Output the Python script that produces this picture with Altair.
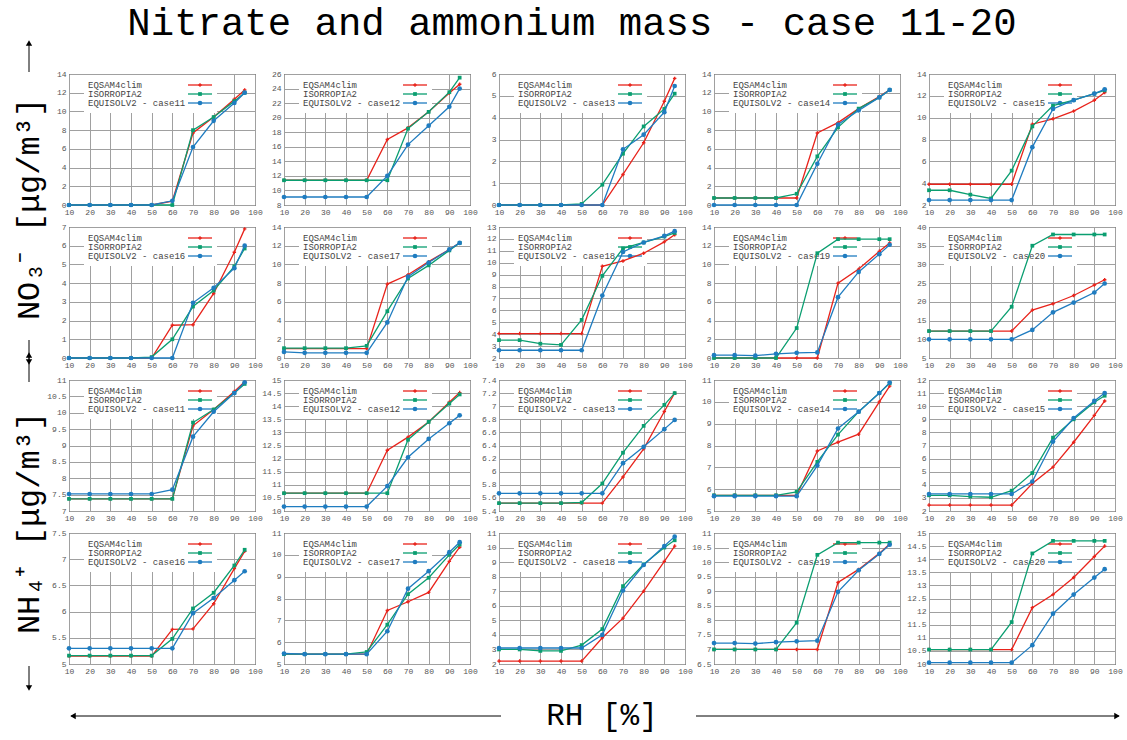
import altair as alt
import pandas as pd

RH = [10, 20, 30, 40, 50, 60, 70, 80, 90, 95]
MODELS = ["EQSAM4clim", "ISORROPIA2", "EQUISOLV2"]
COLORS = ["#e8231b", "#0a9e70", "#1f7cc0"]
SHAPES = ["cross", "square", "circle"]
SIZES = [12, 14, 22]
CASES = [11, 12, 13, 14, 15, 16, 17, 18, 19, 20]

# ---------------- NO3- (ug/m3) ----------------
no3_c11_eq = [0, 0, 0, 0, 0, 0.4, 7.7, 9.4, 11.3, 12.3]
no3_c11_iso = [0, 0, 0, 0, 0, 0, 8.0, 9.4, 11.1, 12.0]
no3_c11_equ = [0, 0, 0, 0, 0, 0.45, 6.2, 9.0, 10.9, 12.0]
no3_c12_eq = [11.4, 11.4, 11.4, 11.4, 11.4, 17.0, 18.6, 20.8, 23.4, 24.6]
no3_c12_iso = [11.4, 11.4, 11.4, 11.4, 11.4, 11.4, 18.5, 20.8, 23.5, 25.5]
no3_c12_equ = [9.1, 9.1, 9.1, 9.1, 9.1, 12.0, 16.3, 18.9, 21.5, 24.0]
no3_c13_eq = [0, 0, 0, 0, 0, 0, 1.4, 2.85, 4.75, 5.8]
no3_c13_iso = [0, 0, 0, 0, 0.05, 0.93, 2.35, 3.6, 4.4, 5.1]
no3_c13_equ = [0, 0, 0, 0, 0, 0, 2.55, 3.22, 4.25, 5.45]
no3_c14_eq = [0.75, 0.75, 0.75, 0.75, 0.75, 7.7, 8.8, 10.3, 11.6, 12.3]
no3_c14_iso = [0.75, 0.75, 0.75, 0.75, 1.2, 5.2, 8.3, 10.3, 11.5, 12.3]
no3_c14_equ = [0, 0, 0, 0, 0, 4.4, 8.6, 10.1, 11.5, 12.3]
no3_c15_eq = [3.9, 3.9, 3.9, 3.9, 3.9, 9.4, 9.9, 10.6, 11.6, 12.3]
no3_c15_iso = [3.35, 3.35, 2.95, 2.6, 5.15, 9.2, 11.1, 11.6, 12.2, 12.5]
no3_c15_equ = [2.45, 2.45, 2.45, 2.45, 2.45, 7.3, 10.8, 11.6, 12.2, 12.6]
no3_c16_eq = [0, 0, 0, 0, 0, 1.75, 1.78, 3.45, 5.65, 6.9]
no3_c16_iso = [0, 0, 0, 0, 0.05, 1.0, 2.75, 3.6, 4.9, 5.85]
no3_c16_equ = [0, 0, 0, 0, 0, 0, 2.95, 3.75, 4.8, 6.0]
no3_c17_eq = [1.0, 1.0, 1.0, 1.0, 1.0, 7.9, 8.9, 10.3, 11.6, 12.3]
no3_c17_iso = [1.05, 1.05, 1.05, 1.05, 1.3, 5.0, 8.5, 9.9, 11.5, 12.3]
no3_c17_equ = [0.65, 0.55, 0.55, 0.55, 0.55, 3.8, 8.7, 10.2, 11.6, 12.3]
no3_c18_eq = [4.05, 4.05, 4.05, 4.05, 4.05, 9.7, 10.15, 10.8, 11.75, 12.35]
no3_c18_iso = [3.5, 3.5, 3.2, 3.1, 5.2, 8.9, 11.2, 11.7, 12.2, 12.5]
no3_c18_equ = [2.65, 2.65, 2.65, 2.65, 2.65, 7.25, 10.9, 11.7, 12.25, 12.65]
no3_c19_eq = [0, 0, 0, 0, 0, 0, 8.0, 9.5, 11.4, 12.3]
no3_c19_iso = [0, 0, 0, 0, 3.2, 11.2, 12.7, 12.7, 12.7, 12.7]
no3_c19_equ = [0.3, 0.3, 0.25, 0.45, 0.55, 0.6, 6.5, 9.2, 11.1, 12.1]
no3_c20_eq = [12.2, 12.2, 12.2, 12.2, 12.2, 17.8, 19.5, 21.7, 24.5, 25.9]
no3_c20_iso = [12.2, 12.2, 12.2, 12.2, 18.7, 35.0, 38.0, 38.0, 38.0, 38.0]
no3_c20_equ = [10.0, 10.0, 10.0, 10.0, 10.0, 12.5, 17.2, 19.8, 22.5, 24.9]

# ---------------- NH4+ (ug/m3) ----------------
nh4_c11_eq = [7.37, 7.37, 7.37, 7.37, 7.37, 7.37, 9.6, 10.1, 10.65, 10.95]
nh4_c11_iso = [7.37, 7.37, 7.37, 7.37, 7.37, 7.37, 9.7, 10.1, 10.6, 10.88]
nh4_c11_equ = [7.52, 7.52, 7.52, 7.52, 7.52, 7.65, 9.27, 10.03, 10.6, 10.93]
nh4_c12_eq = [10.68, 10.68, 10.68, 10.68, 10.68, 12.32, 12.82, 13.4, 14.15, 14.52]
nh4_c12_iso = [10.68, 10.68, 10.68, 10.68, 10.68, 10.68, 12.72, 13.4, 14.1, 14.45]
nh4_c12_equ = [10.17, 10.17, 10.17, 10.17, 10.17, 10.95, 12.05, 12.75, 13.35, 13.65]
nh4_c13_eq = [5.52, 5.52, 5.52, 5.52, 5.52, 5.52, 5.92, 6.35, 6.92, 7.2]
nh4_c13_iso = [5.52, 5.52, 5.52, 5.52, 5.53, 5.82, 6.29, 6.7, 7.02, 7.2]
nh4_c13_equ = [5.67, 5.67, 5.67, 5.67, 5.67, 5.67, 6.13, 6.38, 6.65, 6.79]
nh4_c14_eq = [5.72, 5.72, 5.72, 5.72, 5.72, 7.75, 8.15, 8.52, 10.0, 10.72]
nh4_c14_iso = [5.72, 5.72, 5.72, 5.72, 5.88, 7.25, 8.5, 9.55, 10.4, 10.85]
nh4_c14_equ = [5.68, 5.68, 5.68, 5.68, 5.68, 7.08, 8.78, 9.55, 10.4, 10.88]
nh4_c15_eq = [2.45, 2.45, 2.45, 2.45, 2.45, 4.1, 5.35, 7.25, 9.3, 10.4]
nh4_c15_iso = [3.2, 3.2, 3.1, 3.05, 3.55, 4.9, 7.6, 9.0, 10.3, 10.8]
nh4_c15_equ = [3.3, 3.3, 3.3, 3.3, 3.3, 4.25, 7.3, 9.1, 10.4, 11.0]
nh4_c16_eq = [5.15, 5.15, 5.15, 5.15, 5.15, 5.66, 5.67, 6.15, 6.82, 7.15]
nh4_c16_iso = [5.16, 5.16, 5.16, 5.16, 5.16, 5.48, 6.06, 6.36, 6.88, 7.18]
nh4_c16_equ = [5.3, 5.3, 5.3, 5.3, 5.3, 5.3, 5.97, 6.26, 6.6, 6.77]
nh4_c17_eq = [5.45, 5.45, 5.45, 5.45, 5.45, 7.45, 7.85, 8.28, 9.7, 10.35]
nh4_c17_iso = [5.45, 5.45, 5.45, 5.45, 5.55, 6.8, 8.2, 8.95, 10.0, 10.47]
nh4_c17_equ = [5.48, 5.45, 5.45, 5.45, 5.45, 6.5, 8.45, 9.25, 10.12, 10.58]
nh4_c18_eq = [2.2, 2.2, 2.2, 2.2, 2.2, 3.8, 5.15, 7.0, 9.05, 10.1]
nh4_c18_iso = [3.0, 3.0, 2.9, 2.9, 3.3, 4.4, 7.35, 8.85, 10.0, 10.5]
nh4_c18_equ = [3.1, 3.1, 3.1, 3.1, 3.1, 4.0, 7.05, 8.8, 10.1, 10.75]
nh4_c19_eq = [7.0, 7.0, 7.0, 7.0, 7.0, 7.0, 9.3, 9.75, 10.3, 10.62]
nh4_c19_iso = [7.0, 7.0, 7.0, 7.0, 7.92, 10.25, 10.67, 10.67, 10.67, 10.67]
nh4_c19_equ = [7.22, 7.22, 7.2, 7.25, 7.28, 7.3, 8.98, 9.72, 10.28, 10.6]
nh4_c20_eq = [10.55, 10.55, 10.55, 10.55, 10.55, 12.15, 12.65, 13.3, 14.1, 14.5]
nh4_c20_iso = [10.55, 10.55, 10.55, 10.55, 11.6, 14.22, 14.7, 14.7, 14.7, 14.7]
nh4_c20_equ = [10.05, 10.05, 10.05, 10.05, 10.05, 10.72, 11.92, 12.65, 13.3, 13.62]

# y axis ranges (min, max, tick step) per case
no3_ymin = [0, 8, 0, 0, 2, 0, 0, 2, 0, 5]
no3_ymax = [14, 26, 6, 14, 14, 7, 14, 13, 14, 40]
no3_ystep = [2, 2, 1, 2, 2, 1, 2, 1, 2, 5]
nh4_ymin = [7, 10, 5.4, 5, 2, 5, 5, 2, 6.5, 10]
nh4_ymax = [11, 15, 7.4, 11, 12, 7.5, 11, 11, 11, 15]
nh4_ystep = [0.5, 0.5, 0.2, 1, 1, 0.5, 1, 1, 0.5, 0.5]
x_ticks = [10, 20, 30, 40, 50, 60, 70, 80, 90, 100]

TITLE = "Nitrate and ammonium mass - case 11-20"
NO3_LABEL = "NO₃⁻ [μg/m³]"
NH4_LABEL = "NH₄⁺ [μg/m³]"
X_LABEL = "RH [%]"

FONT = "Liberation Mono"
W, H = 186, 131
ONE = pd.DataFrame({"k": [0]})

g = globals()
NO3 = [[g[f"no3_c{c}_{m}"] for m in ("eq", "iso", "equ")] for c in CASES]
NH4 = [[g[f"nh4_c{c}_{m}"] for m in ("eq", "iso", "equ")] for c in CASES]


def txt(s, x, y, size, angle=None, color="black", align="center", baseline="middle"):
    kw = dict(text=s, fontSize=size, font=FONT, color=color, align=align, baseline=baseline)
    if angle is not None:
        kw["angle"] = angle
    return alt.Chart(ONE).mark_text(**kw).encode(x=alt.value(x), y=alt.value(y))


def hrule(x1, x2, y, color="black", w=1.0):
    return alt.Chart(ONE).mark_rule(color=color, strokeWidth=w).encode(
        x=alt.value(x1), x2=alt.value(x2), y=alt.value(y))


def vrule(x, y1, y2, color="black", w=1.0):
    return alt.Chart(ONE).mark_rule(color=color, strokeWidth=w).encode(
        x=alt.value(x), y=alt.value(y1), y2=alt.value(y2))


def pt(x, y, shape, size, color):
    return alt.Chart(ONE).mark_point(shape=shape, size=size, color=color, filled=True, opacity=1).encode(
        x=alt.value(x), y=alt.value(y))


def anchor(x, y):
    return alt.Chart(ONE).mark_rect(color="white").encode(
        x=alt.value(x), x2=alt.value(x + 1), y=alt.value(y), y2=alt.value(y + 1))


def panel(case, series, ymin, ymax, ystep, extras=()):
    n = int(round((ymax - ymin) / ystep))
    ticks = [round(ymin + i * ystep, 6) for i in range(n + 1)]
    xs = alt.X("rh:Q", scale=alt.Scale(domain=[10, 100], nice=False, zero=False),
               axis=alt.Axis(values=x_ticks, title=None, labelFlush=False))
    ys = alt.Y("v:Q", scale=alt.Scale(domain=[ymin, ymax], nice=False, zero=False),
               axis=alt.Axis(values=ticks, format="~g", title=None, labelFlush=False))
    layers = [alt.Chart(ONE).mark_rect(color="white").encode(
        x=alt.value(15), x2=alt.value(148), y=alt.value(1), y2=alt.value(39))]
    for i, m in enumerate(MODELS):
        label = m if i < 2 else f"{m} - case{case}"
        yy = 11 + 9 * i
        layers.append(txt(label, 19, yy, 9, color="#444", align="left"))
        layers.append(hrule(119, 143, yy, COLORS[i], 1.3))
        layers.append(pt(131, yy, SHAPES[i], SIZES[i], COLORS[i]))
    for i, vals in enumerate(series):
        df = pd.DataFrame({"rh": RH, "v": vals})
        base = alt.Chart(df).encode(x=xs, y=ys)
        layers.append(base.mark_line(color=COLORS[i], strokeWidth=1.3))
        layers.append(base.mark_point(shape=SHAPES[i], size=SIZES[i], color=COLORS[i],
                                      filled=True, opacity=1))
    layers.extend(extras)
    return alt.layer(*layers).properties(width=W, height=H)


panels = []
for k in range(10):
    extras = []
    if k == 0:
        extras = [
            anchor(-68, -73),
            txt(NO3_LABEL, -40, 135, 32, angle=270),
            vrule(-40, -31, -2), pt(-40, -31, "triangle-up", 40, "black"),
            vrule(-40, 266, 288), pt(-40, 288, "triangle-down", 40, "black"),
        ]
    if k == 2:
        extras = [txt(TITLE, 73, -51, 39)]
    panels.append(panel(CASES[k], NO3[k], no3_ymin[k], no3_ymax[k], no3_ystep[k], extras))
for k in range(10):
    extras = []
    if k == 0:
        extras = [
            txt(NH4_LABEL, -40, 143, 32, angle=270),
            vrule(-40, -25, 2), pt(-40, -25, "triangle-up", 40, "black"),
            vrule(-40, 286, 308), pt(-40, 308, "triangle-down", 40, "black"),
        ]
    if k == 7:
        extras = [
            txt(X_LABEL, 103, 183, 31),
            hrule(-428, 2, 183), pt(-426, 183, "triangle-left", 40, "black"),
            hrule(197, 620, 183), pt(618, 183, "triangle-right", 40, "black"),
            anchor(626, 206),
        ]
    panels.append(panel(CASES[k], NH4[k], nh4_ymin[k], nh4_ymax[k], nh4_ystep[k], extras))

chart = alt.concat(
    *panels, columns=5, spacing={"row": 22, "column": 29}, bounds="flush", padding=0
).configure_view(
    stroke="black", strokeWidth=1
).configure_axis(
    grid=True, gridColor="#a0a0a0", gridWidth=1, domain=False, ticks=False,
    labelFont=FONT, labelFontSize=8, labelColor="#555", labelPadding=3, labelOverlap=False
)

chart.save("out.html", embed_options={"renderer": "svg", "actions": False})
